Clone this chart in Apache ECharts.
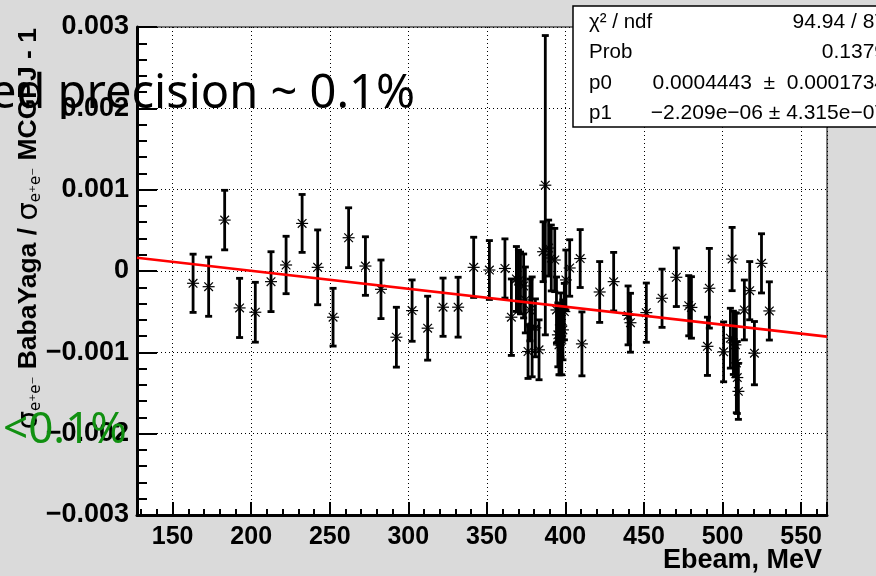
<!DOCTYPE html>
<html>
<head>
<meta charset="utf-8">
<script src="https://cdn.jsdelivr.net/npm/echarts@6/dist/echarts.min.js"></script>
<style>
  html, body { margin: 0; padding: 0; background: #dadada; }
  #chart { width: 876px; height: 576px; }
</style>
</head>
<body>
<div id="chart"></div>
<script>
// Beam energy points (MeV)
const energy = [
  163.0, 172.9, 183.1, 192.6, 202.6, 212.6, 222.2, 232.4, 242.3, 252.1,
  262.0, 272.7, 282.6, 292.4, 302.4, 312.3, 322.1, 331.7, 341.6, 351.6,
  361.5, 365.6,
  368.8, 370.1, 371.4, 373.4, 374.5, 376.2, 377.4, 378.8, 380.9, 383.2,
  385.8, 387.2, 389.3, 391.0, 393.2, 394.3, 395.2, 395.9, 396.5, 397.1,
  397.7, 398.4, 399.3, 400.3, 402.7,
  409.4, 410.5, 421.8, 430.7, 439.9, 441.4, 451.5, 461.5, 470.6, 478.5,
  480.2, 490.4, 491.6,
  500.7, 505.0, 506.1, 506.9, 508.2, 508.8, 509.4, 510.1, 513.9, 517.3,
  520.3, 524.8, 529.8
];

// Relative cross-section difference
const ratio = [
  -0.000151, -0.000193, 0.000626, -0.000454, -0.000507, -0.000131, 0.000074, 0.000585, 0.000045, -0.000568,
  0.000409, 0.000061, -0.000225, -0.000814, -0.000487, -0.000703, -0.000445, -0.000445, 0.000045, 0.000012,
  0.000031, -0.000568,
  -0.000098, -0.000123, -0.000147, -0.000184, -0.000356, -0.000990, -0.000479, -0.000687, -0.000699, -0.000969,
  0.000237, 0.001055, 0.000282, 0.000160, 0.000135, -0.000479, -0.000785, -0.000908, -0.000871, -0.000663,
  -0.000847, -0.000724, -0.000499, -0.000110, 0.000037,
  0.000153, -0.000896, -0.000258, -0.000131, -0.000546, -0.000636, -0.000512, -0.000335, -0.000077, -0.000427,
  -0.000448, -0.000926, -0.000212,
  -0.000994, -0.000826, 0.000147, -0.000883, -0.000908, -0.001130, -0.001310, -0.001480, -0.000479, -0.000242,
  -0.001010, 0.000094, -0.000491
];

// Statistical uncertainty of each point
const ratioErr = [
  0.000358, 0.000364, 0.000366, 0.000364, 0.000368, 0.000368, 0.000353, 0.000356, 0.000460, 0.000355,
  0.000368, 0.000360, 0.000360, 0.000368, 0.000377, 0.000393, 0.000358, 0.000368, 0.000370, 0.000362,
  0.000364, 0.000470,
  0.000399, 0.000380, 0.000380, 0.000393, 0.000405, 0.000331, 0.000380, 0.000614, 0.000356, 0.000368,
  0.000368, 0.001840, 0.000344, 0.000405, 0.000389, 0.000405, 0.000393, 0.000368, 0.000405, 0.000393,
  0.000429, 0.000368, 0.000347, 0.000368, 0.000347,
  0.000356, 0.000393, 0.000374, 0.000360, 0.000362, 0.000362, 0.000364, 0.000358, 0.000360, 0.000370,
  0.000378, 0.000358, 0.000490,
  0.000368, 0.000368, 0.000389, 0.000389, 0.000393, 0.000613, 0.000442, 0.000344, 0.000368, 0.000358,
  0.000389, 0.000364, 0.000358
];

// Linear fit parameters
const p0 = 0.0004443;
const p1 = -2.209e-06;

// Axis ranges and tick steps
const xRange = [127.3, 566.5];
const yRange = [-0.003, 0.003];
const xMajorStep = 50;
const xMinorStep = 10;
const yMajorStep = 0.001;

const statsLabels = ['\u03c7\u00b2 / ndf', 'Prob', 'p0', 'p1'];
const statsValues = ['94.94 / 87', '0.1379', '0.0004443  \u00b1  0.0001734', '\u22122.209e\u221206 \u00b1 4.315e\u221207'];

const points = energy.map((e, i) => [e, ratio[i], ratioErr[i]]);
const fitLine = xRange.map(x => [x, p0 + p1 * x]);

const chart = echarts.init(document.getElementById('chart'), null, { renderer: 'canvas' });

const helv = 'Liberation Sans, Arial, Helvetica, sans-serif';
const handFont = 'Comic Sans MS, Noto Sans, sans-serif';

// error bar with end caps and an asterisk marker
function renderErrorPoint(params, api) {
  const x = api.value(0), y = api.value(1), e = api.value(2);
  const c = api.coord([x, y]);
  const top = api.coord([x, y + e]);
  const bot = api.coord([x, y - e]);
  const cap = 3.5, r = 6;
  const bar = { stroke: '#000', lineWidth: 2.8 };
  const star = { stroke: '#000', lineWidth: 1.2 };
  const d = r * 0.72;
  return {
    type: 'group',
    children: [
      { type: 'line', shape: { x1: c[0], y1: top[1], x2: c[0], y2: bot[1] }, style: bar },
      { type: 'line', shape: { x1: c[0] - cap, y1: top[1], x2: c[0] + cap, y2: top[1] }, style: bar },
      { type: 'line', shape: { x1: c[0] - cap, y1: bot[1], x2: c[0] + cap, y2: bot[1] }, style: bar },
      { type: 'line', shape: { x1: c[0] - r, y1: c[1], x2: c[0] + r, y2: c[1] }, style: star },
      { type: 'line', shape: { x1: c[0] - d, y1: c[1] - d, x2: c[0] + d, y2: c[1] + d }, style: star },
      { type: 'line', shape: { x1: c[0] - d, y1: c[1] + d, x2: c[0] + d, y2: c[1] - d }, style: star }
    ]
  };
}

const option = {
  backgroundColor: '#dadada',
  animation: false,
  grid: {
    left: 137, top: 27, width: 690, height: 488,
    show: true, backgroundColor: '#ffffff', borderColor: '#000', borderWidth: 1
  },
  xAxis: [
    {
      type: 'value', min: xRange[0], max: xRange[1],
      splitNumber: 8, minInterval: xMajorStep, maxInterval: xMajorStep,
      position: 'bottom',
      axisLine: { show: true, onZero: false, lineStyle: { color: '#000', width: 3 } },
      axisTick: { show: true, inside: true, length: 13, lineStyle: { color: '#000', width: 2 } },
      axisLabel: {
        show: true, margin: 10, color: '#000', fontSize: 25, fontWeight: 'bold', fontFamily: helv,
        formatter: v => (Math.abs(v / xMajorStep - Math.round(v / xMajorStep)) < 1e-6 ? String(Math.round(v)) : '')
      },
      splitLine: { show: true, lineStyle: { color: '#000', width: 1, type: [1, 3] } }
    },
    {
      type: 'value', min: xRange[0], max: xRange[1],
      splitNumber: 40, minInterval: xMinorStep, maxInterval: xMinorStep,
      position: 'bottom',
      axisLine: { show: false, onZero: false },
      axisTick: { show: true, inside: true, length: 6, lineStyle: { color: '#000', width: 2 } },
      axisLabel: { show: false },
      splitLine: { show: false }
    }
  ],
  yAxis: {
    type: 'value', min: yRange[0], max: yRange[1], interval: yMajorStep,
    axisLine: { show: true, onZero: false, lineStyle: { color: '#000', width: 3 } },
    axisTick: { show: true, inside: true, length: 20, lineStyle: { color: '#000', width: 2 } },
    minorTick: { show: true, splitNumber: 5, length: 10, lineStyle: { color: '#000', width: 2 } },
    axisLabel: {
      show: true, margin: 8, color: '#000', fontSize: 27, fontWeight: 'bold', fontFamily: helv,
      formatter: v => {
        if (Math.abs(v) < 1e-12) return '0';
        return (v < 0 ? '\u2212' : '') + Math.abs(v).toFixed(3);
      }
    },
    splitLine: { show: true, lineStyle: { color: '#000', width: 1, type: [1, 3] } }
  },
  series: [
    {
      type: 'custom', name: 'data', xAxisIndex: 0, yAxisIndex: 0,
      renderItem: renderErrorPoint,
      encode: { x: 0, y: 1 },
      data: points,
      clip: true, z: 3
    },
    {
      type: 'line', name: 'fit', xAxisIndex: 0, yAxisIndex: 0,
      data: fitLine, showSymbol: false, symbol: 'none',
      lineStyle: { color: '#ff0000', width: 2.6 },
      z: 4
    }
  ],
  graphic: [
    // vertical axis title
    {
      type: 'text', x: 29, y: 28, rotation: Math.PI / 2, z: 10,
      style: {
        text: '{s|\u03c3}{sub|e\u207ae\u207b}{b| BabaYaga / }{s|\u03c3}{sub|e\u207ae\u207b}{b| MCGPJ - 1}',
        align: 'right', verticalAlign: 'middle', fill: '#000',
        rich: {
          s: { fontSize: 29, fontFamily: 'DejaVu Sans, sans-serif', fill: '#000' },
          sub: { fontSize: 15, fontFamily: 'DejaVu Sans, sans-serif', verticalAlign: 'bottom', fill: '#000' },
          b: { fontSize: 26.5, fontWeight: 'bold', fontFamily: helv, fill: '#000' }
        }
      }
    },
    // horizontal axis title
    {
      type: 'text', x: 822, y: 561, z: 10,
      style: {
        text: 'Ebeam, MeV', align: 'right', verticalAlign: 'middle',
        fontSize: 27, fontWeight: 'bold', fontFamily: helv, fill: '#000'
      }
    },
    // fit statistics box
    {
      type: 'rect', z: 20,
      shape: { x: 573, y: 6, width: 330, height: 121 },
      style: { fill: '#ffffff', stroke: '#000', lineWidth: 1.5 }
    },
    ...statsLabels.map((t, i) => ({
      type: 'text', x: 589, y: 22 + i * 30.5, z: 21,
      style: { text: t, align: 'left', verticalAlign: 'middle', fontSize: 20.5, fontFamily: helv, fill: '#000' }
    })),
    ...statsValues.map((t, i) => ({
      type: 'text', x: 886, y: 22 + i * 30.5, z: 21,
      style: { text: t, align: 'right', verticalAlign: 'middle', fontSize: 21, fontFamily: helv, fill: '#000' }
    })),
    // slide annotations
    {
      type: 'text', x: 415, y: 95, z: 30,
      style: {
        text: 'ed precision ~ 0.1%', align: 'right', verticalAlign: 'middle',
        fontSize: 47, fontFamily: handFont, fill: '#000'
      }
    },
    {
      type: 'text', x: 3, y: 430, z: 30,
      style: {
        text: '<0.1%', align: 'left', verticalAlign: 'middle',
        fontSize: 44, fontFamily: handFont, fill: '#119011'
      }
    }
  ]
};

chart.setOption(option);
</script>
</body>
</html>
